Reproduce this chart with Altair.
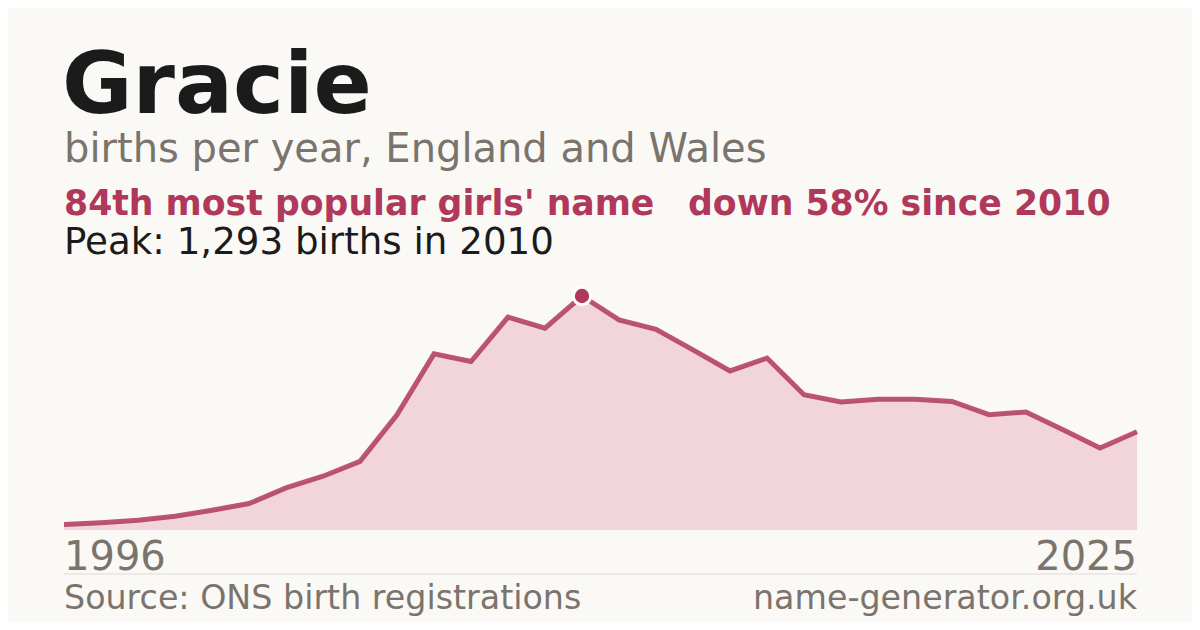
import altair as alt
import pandas as pd

years = [1996, 1997, 1998, 1999, 2000, 2001, 2002, 2003, 2004, 2005,
         2006, 2007, 2008, 2009, 2010, 2011, 2012, 2013, 2014, 2015,
         2016, 2017, 2018, 2019, 2020, 2021, 2022, 2023, 2024, 2025]
births = [30, 40, 54, 76, 109, 146, 233, 297, 379, 637,
          973, 931, 1176, 1115, 1293, 1161, 1109, 995, 879, 950,
          747, 707, 723, 723, 710, 637, 652, 554, 453, 543]

title_text = "Gracie"
subtitle_text = "births per year, England and Wales"
rank_text = "84th most popular girls' name"
change_text = "down 58% since 2010"
peak_text = "Peak: 1,293 births in 2010"
start_label = "1996"
end_label = "2025"
source_text = "Source: ONS birth registrations"
site_text = "name-generator.org.uk"

RED = "#b0385a"
GREY = "#7a746d"
DARK = "#1b1b1b"
FONT = "DejaVu Sans"
W, H = 1073, 234

df = pd.DataFrame({"year": years, "births": births})

xs = alt.X("year:Q", scale=alt.Scale(domain=[years[0], years[-1]], nice=False, zero=False), axis=None)
ys = alt.Y("births:Q", scale=alt.Scale(domain=[0, max(births)], nice=False), axis=None)

base = alt.Chart(df)
area = base.mark_area(color="#f1d5db").encode(x=xs, y=ys)
line = base.mark_line(color=RED, strokeWidth=5, opacity=0.85, strokeJoin="miter").encode(x=xs, y=ys)
peak = base.transform_joinaggregate(mx="max(births)").transform_filter(
    "datum.births == datum.mx"
).mark_point(filled=True, shape="circle", size=300, color=RED, stroke="white",
             strokeWidth=3, opacity=1, fillOpacity=1, strokeOpacity=1).encode(x=xs, y=ys)


def txt(s, x, y, size, color, weight="normal", align="left"):
    return alt.Chart(pd.DataFrame({"t": [s]})).mark_text(
        font=FONT, fontSize=size, color=color, fontWeight=weight,
        align=align, baseline="alphabetic"
    ).encode(x=alt.value(x), y=alt.value(y), text="t:N")


texts = [
    txt(title_text, -2, -183, 86, DARK, "bold"),
    txt(subtitle_text, 0, -134, 40, GREY),
    txt(rank_text, 0, -81, 34.7, RED, "bold"),
    txt(change_text, 624, -81, 34.7, RED, "bold"),
    txt(peak_text, 0, -42, 37.2, DARK),
    txt(start_label, 0, 274, 40, GREY),
    txt(end_label, W, 274, 40, GREY, align="right"),
    txt(source_text, 0, 313, 33.3, GREY),
    txt(site_text, W, 313, 33.3, GREY, align="right"),
]

sep = alt.Chart(pd.DataFrame({"a": [0]})).mark_rule(color="#dedbd5", strokeWidth=1).encode(
    x=alt.value(0), x2=alt.value(W), y=alt.value(278)
)

chart = alt.layer(area, line, peak, sep, *texts).properties(
    width=W, height=H,
    padding={"left": 56, "top": 288, "right": 55, "bottom": 92},
    autosize=alt.AutoSizeParams(type="none"),
    background="#faf9f5",
).configure_view(stroke=None)

chart.save("out.html", embed_options={"renderer": "svg", "actions": False})
